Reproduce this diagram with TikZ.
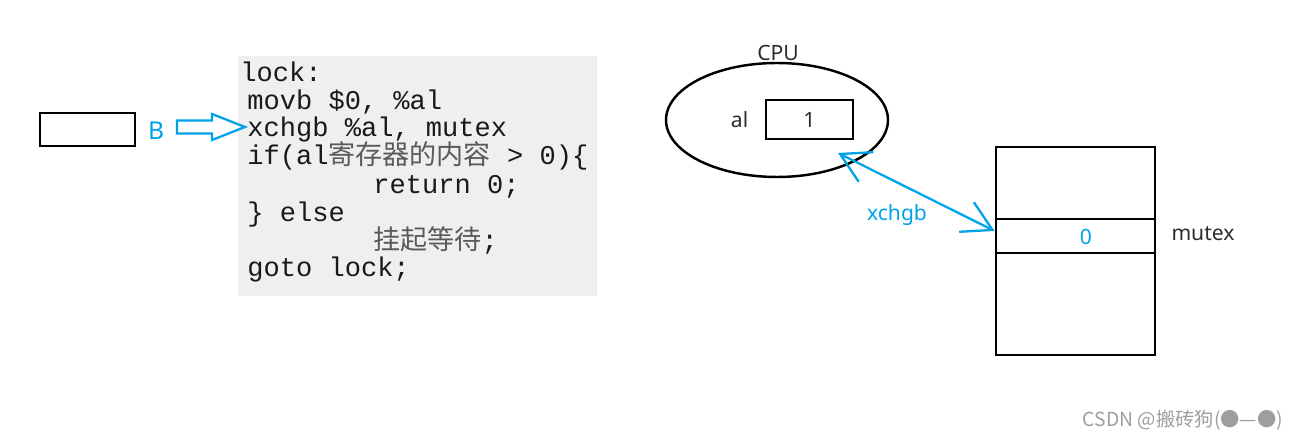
\documentclass[tikz,border=0pt]{standalone}
\usepackage{fontspec}
\setmainfont{Noto Sans}
\setmonofont{Liberation Mono}
\newfontfamily\cjk{Noto Sans CJK SC}
\usepackage{xcolor}
\usetikzlibrary{arrows.meta,positioning,shapes.geometric}
\definecolor{xblue}{RGB}{0,162,232}
\definecolor{codegray}{RGB}{239,239,239}
\definecolor{inkgray}{RGB}{45,45,45}
\definecolor{cjkgray}{RGB}{90,90,90}

\begin{document}
\begin{tikzpicture}[x=0.2mm,y=-0.2mm,
  lbl/.style={font=\fontsize{12}{14}\selectfont,text=inkgray,inner sep=0pt},
  bluelbl/.style={lbl,text=xblue},
  codeln/.style={anchor=base west,inner sep=0pt,font=\fontsize{15.4}{16}\selectfont\ttfamily,text=black!90},
  reg/.style={draw,line width=1.6pt,inner sep=0pt},
  hollow/.style={draw=xblue,line width=1.3pt,line join=miter},
  link/.style={draw=xblue,line width=1.3pt,{Straight Barb[length=5.8mm,width=6.6mm]}-{Straight Barb[length=5.8mm,width=6.6mm]}}
]
\useasboundingbox (0,0) rectangle (1300,440);
\node[fill=codegray,minimum width=71.8mm,minimum height=48mm,inner sep=0pt] (codebg) at (417.5,176) {};
\node[codeln] (c1) at (240,82) {lock:};
\node[codeln] (c2) at (247,110) {movb \$0, \%al};
\node[codeln] (c3) at (247,137) {xchgb \%al, mutex};
\node[codeln] (c4) at (247,165) {if(al{\cjk\color{cjkgray}寄存器的内容} > 0)\{};
\node[codeln] (c5) at (373,194) {return 0;};
\node[codeln] (c6) at (247,222) {\} else};
\node[codeln] (c7) at (373,250) {{\cjk\color{cjkgray}挂起等待};};
\node[codeln] (c8) at (247,277) {goto lock;};
\node[reg,minimum width=19mm,minimum height=6.6mm] (tbox) at (87.5,129.5) {};
\node[bluelbl,font=\fontsize{14}{16}\selectfont] (tlbl) at (156,131) {B};
\coordinate (tptr) at ([xshift=-0.4mm,yshift=0.6mm]c3.west);
\draw[hollow,shift={(tptr)}] (-68,-6.5) -- (-33,-6.5) -- (-33,-13) -- (0,0) -- (-33,13) -- (-33,6.5) -- (-68,6.5) -- cycle;
\node[ellipse,draw,line width=1.4pt,minimum width=44.4mm,minimum height=22.8mm,inner sep=0pt] (cpu) at (777,120) {};
\node[lbl] (cpulbl) at (778,53) {CPU};
\node[reg,minimum width=17.4mm,minimum height=7.8mm,font=\fontsize{12}{14}\selectfont,text=inkgray] (alreg) at (809.5,119.5) {1};
\node[lbl,left=3.2mm of alreg] (allbl) {al};
\node[reg,minimum width=31.8mm,minimum height=41.6mm] (mem) at (1075.5,251) {};
\node[reg,minimum width=31.8mm,minimum height=6.8mm] (mcell) at (1075.5,236) {};
\node[bluelbl] (zero) at (1086,237) {0};
\node[lbl] (mutexlbl) at (1203,234) {mutex};
\coordinate (cpuin) at (838,153);
\draw[link] (cpuin) -- ([yshift=1mm]mcell.west);
\node[bluelbl] (xlbl) at (897,215) {xchgb};
\node[font=\cjk\fontsize{11}{13}\selectfont,text=black!38] (wm) at (1183,420) {CSDN @搬砖狗(●—●)};
\end{tikzpicture}
\end{document}
